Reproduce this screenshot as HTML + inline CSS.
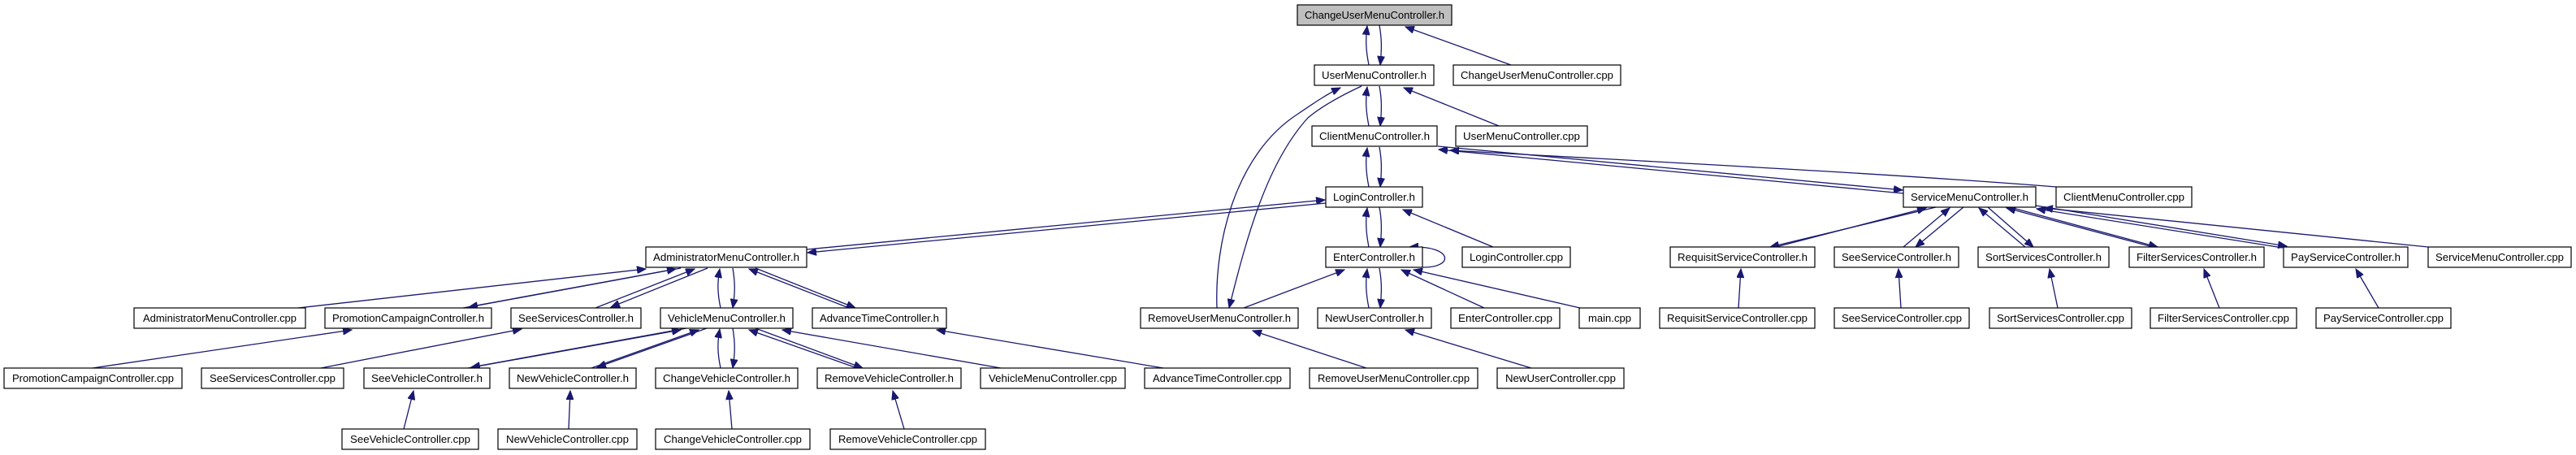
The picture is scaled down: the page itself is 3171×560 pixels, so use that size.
<!DOCTYPE html>
<html><head><meta charset="utf-8"><style>
html,body{margin:0;padding:0;background:#fff;}
svg{display:block;}
text{font-family:"Liberation Sans",Arial,sans-serif;font-size:13px;fill:#000;}
.n{fill:#fff;stroke:#000;stroke-width:1.2;}
.e{stroke:#191970;stroke-width:1.3;fill:none;marker-end:url(#a);}
</style></head><body>
<svg width="3171" height="560" viewBox="0 0 3171 560" xmlns="http://www.w3.org/2000/svg">
<defs><marker id="a" markerWidth="12" markerHeight="9" refX="11" refY="4.5" orient="auto" markerUnits="userSpaceOnUse"><path d="M0,0 L11,4.5 L0,9z" fill="#191970" stroke="#191970"/></marker></defs>

<!-- edges -->
<g>
<!-- top chain vertical pairs -->
<path class="e" d="M1685,80 C1681,60 1681,48 1683,32"/>
<path class="e" d="M1698,31 C1701,48 1701,60 1699,80"/>
<path class="e" d="M1860,80 L1730,33"/>
<path class="e" d="M1685,155 C1681,135 1681,122 1683,107"/>
<path class="e" d="M1698,106 C1701,122 1701,135 1699,155"/>
<path class="e" d="M1845,155 L1728,108"/>
<path class="e" d="M1685,230 C1681,210 1681,197 1683,182"/>
<path class="e" d="M1698,181 C1701,197 1701,210 1699,230"/>
<path class="e" d="M1685,304 C1681,284 1681,271 1683,256"/>
<path class="e" d="M1698,255 C1701,271 1701,284 1699,304"/>
<path class="e" d="M1685,379 C1681,359 1681,346 1683,331"/>
<path class="e" d="M1698,330 C1701,346 1701,359 1699,379"/>
<!-- RemoveUserMenu <-> UserMenu curves -->
<path class="e" d="M1498,379 C1495,300 1520,190 1598,140 C1620,125 1635,115 1650,108"/>
<path class="e" d="M1676,106 C1650,118 1628,130 1610,145 C1560,200 1535,290 1513,379"/>
<path class="e" d="M1838,304 L1727,258"/>
<path class="e" d="M1751,329 C1790,330 1790,302 1735,304"/>
<path class="e" d="M1531,379 L1655,332"/>
<path class="e" d="M1827,379 L1725,332"/>
<path class="e" d="M1945,379 L1740,332"/>
<path class="e" d="M1682,453 L1542,407"/>
<path class="e" d="M1885,453 L1730,406"/>
<!-- Admin <-> Login -->
<path class="e" d="M993,307 L1631,246"/>
<path class="e" d="M1632,250 L994,311"/>
<!-- Client <-> ServiceMenu -->
<path class="e" d="M1770,180 L2342,234"/>
<path class="e" d="M2343,238 L1771,184"/>
<path class="e" d="M2531,230 C2300,212 2050,200 1785,185"/>
<!-- ServiceMenu children -->
<path class="e" d="M2383,255 L2179,304"/>
<path class="e" d="M2186,304 L2371,256"/>
<path class="e" d="M2343,304 L2400,256"/>
<path class="e" d="M2417,255 L2358,304"/>
<path class="e" d="M2493,304 L2436,256"/>
<path class="e" d="M2447,255 L2503,304"/>
<path class="e" d="M2474,255 L2656,304"/>
<path class="e" d="M2650,304 L2470,256"/>
<path class="e" d="M2506,253 L2815,303"/>
<path class="e" d="M2810,305 L2507,257"/>
<path class="e" d="M2989,304 L2516,256"/>
<path class="e" d="M2140,379 L2143,331"/>
<path class="e" d="M2340,379 L2337,331"/>
<path class="e" d="M2533,379 L2523,331"/>
<path class="e" d="M2732,379 L2713,331"/>
<path class="e" d="M2928,379 L2900,331"/>
<!-- Admin children -->
<path class="e" d="M367,379 L795,331"/>
<path class="e" d="M838,330 L577,378"/>
<path class="e" d="M570,379 L832,331"/>
<path class="e" d="M871,330 L752,378"/>
<path class="e" d="M733,379 L855,331"/>
<path class="e" d="M887,379 C883,360 883,348 886,331"/>
<path class="e" d="M902,330 C905,348 905,360 902,379"/>
<path class="e" d="M930,330 L1053,379"/>
<path class="e" d="M1045,379 L922,331"/>
<path class="e" d="M114,453 L433,406"/>
<path class="e" d="M395,453 L642,405"/>
<!-- Vehicle children -->
<path class="e" d="M845,404 L580,452"/>
<path class="e" d="M576,453 L838,406"/>
<path class="e" d="M870,404 L735,452"/>
<path class="e" d="M728,453 L860,406"/>
<path class="e" d="M887,453 C883,434 883,422 886,405"/>
<path class="e" d="M902,404 C905,422 905,434 902,453"/>
<path class="e" d="M930,404 L1062,453"/>
<path class="e" d="M1055,453 L922,406"/>
<path class="e" d="M1232,453 L963,406"/>
<path class="e" d="M1432,453 L1153,406"/>
<path class="e" d="M497,528 L509,481"/>
<path class="e" d="M700,528 L702,481"/>
<path class="e" d="M901,528 L897,481"/>
<path class="e" d="M1113,528 L1099,481"/>
</g>

<!-- nodes -->
<g>
<rect x="1597" y="6" width="190" height="25" fill="#bfbfbf" stroke="#000" stroke-width="1.2"/><text x="1692" y="23" text-anchor="middle" textLength="172" lengthAdjust="spacingAndGlyphs">ChangeUserMenuController.h</text>

<rect class="n" x="1618" y="80" width="147" height="25"/><text x="1691.5" y="97" text-anchor="middle" textLength="129" lengthAdjust="spacingAndGlyphs">UserMenuController.h</text>
<rect class="n" x="1789" y="80" width="206" height="25"/><text x="1892" y="97" text-anchor="middle" textLength="188" lengthAdjust="spacingAndGlyphs">ChangeUserMenuController.cpp</text>

<rect class="n" x="1615" y="155" width="154" height="25"/><text x="1692" y="172" text-anchor="middle" textLength="136" lengthAdjust="spacingAndGlyphs">ClientMenuController.h</text>
<rect class="n" x="1792" y="155" width="162" height="25"/><text x="1873" y="172" text-anchor="middle" textLength="144" lengthAdjust="spacingAndGlyphs">UserMenuController.cpp</text>

<rect class="n" x="1632" y="230" width="119" height="25"/><text x="1691.5" y="247" text-anchor="middle" textLength="101" lengthAdjust="spacingAndGlyphs">LoginController.h</text>
<rect class="n" x="2343" y="230" width="163" height="25"/><text x="2424.5" y="247" text-anchor="middle" textLength="145" lengthAdjust="spacingAndGlyphs">ServiceMenuController.h</text>
<rect class="n" x="2531" y="230" width="167" height="25"/><text x="2614.5" y="247" text-anchor="middle" textLength="149" lengthAdjust="spacingAndGlyphs">ClientMenuController.cpp</text>

<rect class="n" x="795" y="304" width="198" height="25"/><text x="894" y="321" text-anchor="middle" textLength="180" lengthAdjust="spacingAndGlyphs">AdministratorMenuController.h</text>
<rect class="n" x="1632" y="304" width="119" height="25"/><text x="1691.5" y="321" text-anchor="middle" textLength="101" lengthAdjust="spacingAndGlyphs">EnterController.h</text>
<rect class="n" x="1800" y="304" width="133" height="25"/><text x="1866.5" y="321" text-anchor="middle" textLength="115" lengthAdjust="spacingAndGlyphs">LoginController.cpp</text>
<rect class="n" x="2056" y="304" width="178" height="25"/><text x="2145" y="321" text-anchor="middle" textLength="160" lengthAdjust="spacingAndGlyphs">RequisitServiceController.h</text>
<rect class="n" x="2258" y="304" width="153" height="25"/><text x="2334.5" y="321" text-anchor="middle" textLength="135" lengthAdjust="spacingAndGlyphs">SeeServiceController.h</text>
<rect class="n" x="2435" y="304" width="161" height="25"/><text x="2515.5" y="321" text-anchor="middle" textLength="143" lengthAdjust="spacingAndGlyphs">SortServicesController.h</text>
<rect class="n" x="2621" y="304" width="166" height="25"/><text x="2704" y="321" text-anchor="middle" textLength="148" lengthAdjust="spacingAndGlyphs">FilterServicesController.h</text>
<rect class="n" x="2811" y="304" width="153" height="25"/><text x="2887.5" y="321" text-anchor="middle" textLength="135" lengthAdjust="spacingAndGlyphs">PayServiceController.h</text>
<rect class="n" x="2989" y="304" width="176" height="25"/><text x="3077" y="321" text-anchor="middle" textLength="158" lengthAdjust="spacingAndGlyphs">ServiceMenuController.cpp</text>

<rect class="n" x="165" y="379" width="211" height="25"/><text x="270.5" y="396" text-anchor="middle" textLength="189" lengthAdjust="spacingAndGlyphs">AdministratorMenuController.cpp</text>
<rect class="n" x="400" y="379" width="205" height="25"/><text x="502.5" y="396" text-anchor="middle" textLength="187" lengthAdjust="spacingAndGlyphs">PromotionCampaignController.h</text>
<rect class="n" x="629" y="379" width="160" height="25"/><text x="709" y="396" text-anchor="middle" textLength="142" lengthAdjust="spacingAndGlyphs">SeeServicesController.h</text>
<rect class="n" x="813" y="379" width="163" height="25"/><text x="894.5" y="396" text-anchor="middle" textLength="145" lengthAdjust="spacingAndGlyphs">VehicleMenuController.h</text>
<rect class="n" x="1000" y="379" width="165" height="25"/><text x="1082.5" y="396" text-anchor="middle" textLength="147" lengthAdjust="spacingAndGlyphs">AdvanceTimeController.h</text>
<rect class="n" x="1404" y="379" width="194" height="25"/><text x="1501" y="396" text-anchor="middle" textLength="176" lengthAdjust="spacingAndGlyphs">RemoveUserMenuController.h</text>
<rect class="n" x="1622" y="379" width="140" height="25"/><text x="1692" y="396" text-anchor="middle" textLength="122" lengthAdjust="spacingAndGlyphs">NewUserController.h</text>
<rect class="n" x="1786" y="379" width="134" height="25"/><text x="1853" y="396" text-anchor="middle" textLength="116" lengthAdjust="spacingAndGlyphs">EnterController.cpp</text>
<rect class="n" x="1944" y="379" width="75" height="25"/><text x="1981.5" y="396" text-anchor="middle" textLength="53" lengthAdjust="spacingAndGlyphs">main.cpp</text>
<rect class="n" x="2043" y="379" width="191" height="25"/><text x="2138.5" y="396" text-anchor="middle" textLength="173" lengthAdjust="spacingAndGlyphs">RequisitServiceController.cpp</text>
<rect class="n" x="2258" y="379" width="166" height="25"/><text x="2341" y="396" text-anchor="middle" textLength="148" lengthAdjust="spacingAndGlyphs">SeeServiceController.cpp</text>
<rect class="n" x="2449" y="379" width="175" height="25"/><text x="2536.5" y="396" text-anchor="middle" textLength="157" lengthAdjust="spacingAndGlyphs">SortServicesController.cpp</text>
<rect class="n" x="2647" y="379" width="180" height="25"/><text x="2737" y="396" text-anchor="middle" textLength="162" lengthAdjust="spacingAndGlyphs">FilterServicesController.cpp</text>
<rect class="n" x="2851" y="379" width="166" height="25"/><text x="2934" y="396" text-anchor="middle" textLength="148" lengthAdjust="spacingAndGlyphs">PayServiceController.cpp</text>

<rect class="n" x="5" y="453" width="219" height="25"/><text x="114.5" y="470" text-anchor="middle" textLength="199" lengthAdjust="spacingAndGlyphs">PromotionCampaignController.cpp</text>
<rect class="n" x="248" y="453" width="175" height="25"/><text x="335.5" y="470" text-anchor="middle" textLength="155" lengthAdjust="spacingAndGlyphs">SeeServicesController.cpp</text>
<rect class="n" x="448" y="453" width="155" height="25"/><text x="525.5" y="470" text-anchor="middle" textLength="137" lengthAdjust="spacingAndGlyphs">SeeVehicleController.h</text>
<rect class="n" x="627" y="453" width="156" height="25"/><text x="705" y="470" text-anchor="middle" textLength="138" lengthAdjust="spacingAndGlyphs">NewVehicleController.h</text>
<rect class="n" x="807" y="453" width="175" height="25"/><text x="894.5" y="470" text-anchor="middle" textLength="157" lengthAdjust="spacingAndGlyphs">ChangeVehicleController.h</text>
<rect class="n" x="1006" y="453" width="177" height="25"/><text x="1094.5" y="470" text-anchor="middle" textLength="159" lengthAdjust="spacingAndGlyphs">RemoveVehicleController.h</text>
<rect class="n" x="1207" y="453" width="178" height="25"/><text x="1296" y="470" text-anchor="middle" textLength="158" lengthAdjust="spacingAndGlyphs">VehicleMenuController.cpp</text>
<rect class="n" x="1409" y="453" width="179" height="25"/><text x="1498.5" y="470" text-anchor="middle" textLength="159" lengthAdjust="spacingAndGlyphs">AdvanceTimeController.cpp</text>
<rect class="n" x="1612" y="453" width="207" height="25"/><text x="1715.5" y="470" text-anchor="middle" textLength="187" lengthAdjust="spacingAndGlyphs">RemoveUserMenuController.cpp</text>
<rect class="n" x="1843" y="453" width="156" height="25"/><text x="1921" y="470" text-anchor="middle" textLength="136" lengthAdjust="spacingAndGlyphs">NewUserController.cpp</text>

<rect class="n" x="421" y="528" width="168" height="25"/><text x="505" y="545" text-anchor="middle" textLength="148" lengthAdjust="spacingAndGlyphs">SeeVehicleController.cpp</text>
<rect class="n" x="613" y="528" width="171" height="25"/><text x="698.5" y="545" text-anchor="middle" textLength="151" lengthAdjust="spacingAndGlyphs">NewVehicleController.cpp</text>
<rect class="n" x="807" y="528" width="190" height="25"/><text x="902" y="545" text-anchor="middle" textLength="170" lengthAdjust="spacingAndGlyphs">ChangeVehicleController.cpp</text>
<rect class="n" x="1022" y="528" width="191" height="25"/><text x="1117.5" y="545" text-anchor="middle" textLength="171" lengthAdjust="spacingAndGlyphs">RemoveVehicleController.cpp</text>
</g>
</svg>
</body></html>
